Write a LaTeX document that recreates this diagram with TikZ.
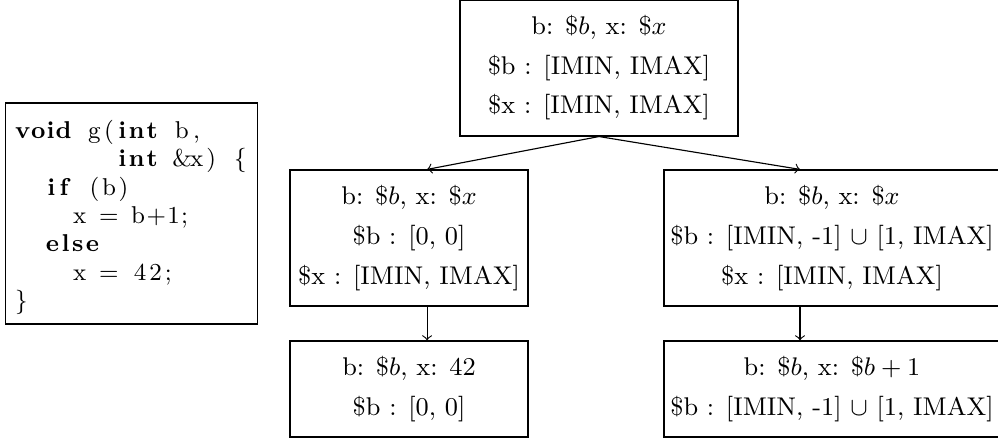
\documentclass[tikz,border=0pt]{standalone}
\usepackage{amsmath}
\usepackage{amssymb}
\usepackage{listings}
\usepackage{tikz}

\lstset{language=C++,
  basicstyle=\fontsize{8.6}{10}\selectfont,
  keywordstyle=\bfseries,
  columns=fixed,
  aboveskip=0pt,belowskip=0pt,
  xleftmargin=0pt,framexleftmargin=0pt}

\tikzset{
  state/.style={draw, align=center, inner xsep=1pt, minimum height=1.689cm,
    font=\fontsize{9.05}{11}\selectfont},
  codebox/.style={draw, inner xsep=3pt, inner ysep=2pt, text width=83pt, minimum height=2.744cm}
}

\begin{document}
\begin{tikzpicture}
            \useasboundingbox (0,0) rectangle (12.392,-5.538);
            \node[codebox] (code) at (1.633,-2.651) {%
\begin{lstlisting}
void g(int b,
       int &x) {
  if (b)
    x = b+1;
  else
    x = 42;
}
\end{lstlisting}
};
            \node[state, minimum width=3.452cm] (init) at (7.438,-0.844)
                {b: \$$b$, x: \$$x$\\[3pt] \$b : [IMIN, IMAX]\\[3pt] \$x : [IMIN, IMAX]};
            \node[state, minimum width=2.955cm] (zero) at (5.079,-2.955)
                {b: \$$b$, x: \$$x$\\[3pt] \$b : [0, 0]\\[3pt] \$x : [IMIN, IMAX]};
            \node[state, minimum width=4.172cm] (nonzero) at (10.331,-2.955)
                {b: \$$b$, x: \$$x$\\[3pt] \$b : [IMIN, -1] $\cup$ [1, IMAX]\\[3pt] \$x : [IMIN, IMAX]};
            \node[state, minimum width=2.955cm, minimum height=1.192cm] (zeroset) at (5.079,-4.830)
                {b: \$$b$, x: 42\\[3pt] \$b : [0, 0]};
            \node[state, minimum width=4.172cm, minimum height=1.192cm] (nonzeroset) at (10.331,-4.830)
                {b: \$$b$, x: \$$b+1$\\[3pt] \$b : [IMIN, -1] $\cup$ [1, IMAX]};
            \draw[->] (init.south)--([xshift=0.224cm]zero.north);
            \draw[->] (init.south)--([xshift=-0.397cm]nonzero.north);
            \draw[->] ([xshift=0.224cm]zero.south)--([xshift=0.224cm]zeroset.north);
            \draw[->] ([xshift=-0.397cm]nonzero.south)--([xshift=-0.397cm]nonzeroset.north);
        \end{tikzpicture}
\end{document}
